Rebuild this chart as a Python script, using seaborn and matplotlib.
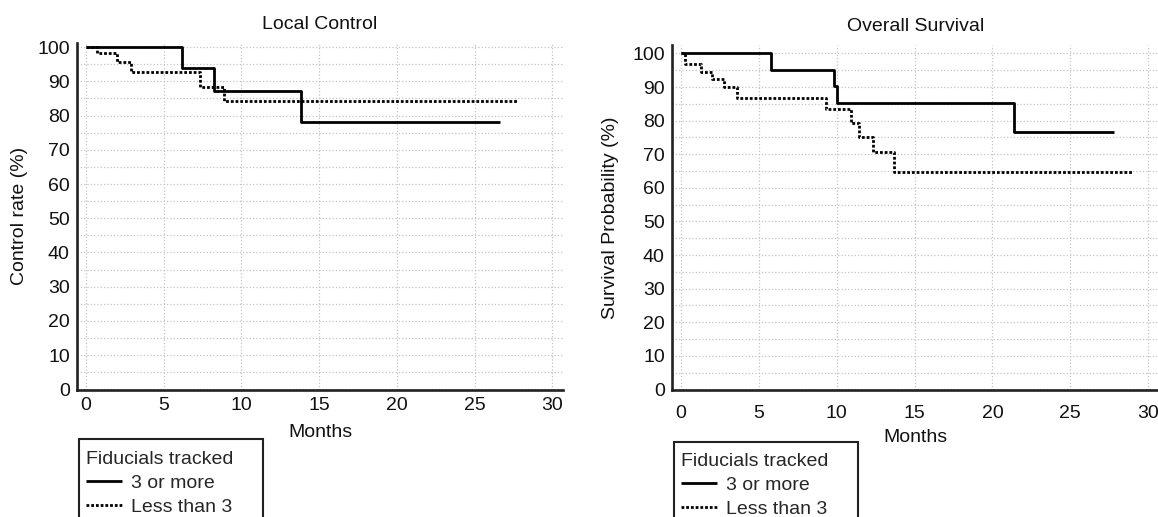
import numpy as np
import pandas as pd
import matplotlib
matplotlib.use("Agg")
import matplotlib.pyplot as plt
from matplotlib.lines import Line2D
from matplotlib.patches import Rectangle
import seaborn as sns

# ---------------- data ----------------
groups = ["3 or more", "Less than 3"]

lc_more_t = [0, 6.2, 8.2, 13.8, 26.6]
lc_more_v = [100, 93.8, 87.3, 78.2, 78.2]
lc_less_t = [0, 0.7, 2.0, 2.9, 7.3, 8.9, 27.8]
lc_less_v = [100, 98.3, 95.6, 92.7, 88.3, 84.2, 84.2]

os_more_t = [0, 5.8, 9.8, 10.0, 21.4, 27.8]
os_more_v = [100, 95.2, 90.3, 85.3, 76.7, 76.7]
os_less_t = [0, 0.26, 1.3, 2.0, 2.75, 3.6, 9.3, 10.9, 11.4, 12.3, 13.7, 29.0]
os_less_v = [100, 96.7, 94.5, 92.4, 89.9, 86.8, 83.4, 79.4, 75.2, 70.6, 64.8, 64.8]

x_ticks = [0, 5, 10, 15, 20, 25, 30]
y_ticks = [0, 10, 20, 30, 40, 50, 60, 70, 80, 90, 100]
y_minor = [5, 15, 25, 35, 45, 55, 65, 75, 85, 95]

titles = ["Local Control", "Overall Survival"]
ylabels = ["Control rate (%)", "Survival Probability (%)"]
xlabel = "Months"
legend_title = "Fiducials tracked"


def frame(t1, v1, t2, v2):
    return pd.concat([
        pd.DataFrame({"Months": t1, "Value": v1, "group": groups[0]}),
        pd.DataFrame({"Months": t2, "Value": v2, "group": groups[1]}),
    ], ignore_index=True)


dfs = [frame(lc_more_t, lc_more_v, lc_less_t, lc_less_v),
       frame(os_more_t, os_more_v, os_less_t, os_less_v)]

# ---------------- styling ----------------
sns.set_style("white")
plt.rcParams["font.family"] = ["Liberation Sans", "DejaVu Sans"]
FS = 14

W, H = 1158, 517
fig = plt.figure(figsize=(W / 100, H / 100), dpi=100)

# axes rectangles in pixel terms: (left, top, right, bottom)
rects = [(76.7, 42.7, 563.3, 390.0), (671.7, 45.0, 1159.0, 390.0)]
ylims = [(-0.2, 101.3), (-0.15, 102.5)]
xlim = (-0.6, 30.7)
xpads = [5.0, 11.0]
xlabel_y = [-0.097, -0.112]
ylabel_x = [-0.100, -0.109]

dot = (0, (1, 0.7))
dashes = {groups[0]: "", groups[1]: (1, 0.7)}

axes = []
for i, (l, t, r, b) in enumerate(rects):
    ax = fig.add_axes([l / W, (H - b) / H, (r - l) / W, (b - t) / H])
    axes.append(ax)
    sns.lineplot(data=dfs[i], x="Months", y="Value", hue="group", style="group",
                 palette={groups[0]: "black", groups[1]: "black"},
                 dashes=dashes, drawstyle="steps-post", estimator=None,
                 linewidth=2.0, legend=False, ax=ax, zorder=3)
    for ln in ax.get_lines():
        ln.set_dash_capstyle("butt")
        ln.set_solid_capstyle("butt")
    ax.set_xlim(*xlim)
    ax.set_ylim(*ylims[i])
    ax.set_xticks(x_ticks)
    ax.set_yticks(y_ticks)
    ax.set_yticks(y_minor, minor=True)
    ax.xaxis.grid(True, which="major", color="#c4c4c4", linestyle=":", linewidth=0.9)
    ax.yaxis.grid(True, which="both", color="#c4c4c4", linestyle=":", linewidth=0.9)
    ax.set_axisbelow(True)
    ax.tick_params(axis="both", which="both", length=0, labelsize=FS, colors="#111111")
    ax.tick_params(axis="x", pad=xpads[i])
    ax.tick_params(axis="y", pad=5)
    for side in ["top", "right"]:
        ax.spines[side].set_visible(False)
    for side in ["left", "bottom"]:
        ax.spines[side].set_linewidth(1.9)
        ax.spines[side].set_color("#222222")
    ax.set_title(titles[i], fontsize=FS, pad=10, color="#111111")
    ax.set_xlabel(xlabel, fontsize=FS, color="#111111")
    ax.set_ylabel(ylabels[i], fontsize=FS, color="#111111")
    ax.xaxis.set_label_coords(0.5, xlabel_y[i])
    ax.yaxis.set_label_coords(ylabel_x[i], 0.5)

    # legend
    handles = [Line2D([], [], color="black", lw=2.0, solid_capstyle="butt"),
               Line2D([], [], color="black", lw=2.0, linestyle=dot,
                      dash_capstyle="butt")]
    leg_left = l + 9
    leg = ax.legend(handles, groups, title=legend_title, loc="upper left",
                    bbox_to_anchor=(leg_left / W, (H - (t + 408)) / H),
                    bbox_transform=fig.transFigure, frameon=False,
                    fontsize=FS, title_fontsize=FS, alignment="left",
                    borderpad=0, borderaxespad=0, handlelength=1.85,
                    handletextpad=0.5, labelspacing=0.33)
    # frame of legend box (extends past the bottom edge as in the reference)
    bx0 = l + 2.6
    fig.patches.append(Rectangle((bx0 / W, -0.05), 183.4 / W,
                                 (H - (t + 396.6)) / H + 0.05,
                                 transform=fig.transFigure, fill=False,
                                 edgecolor="#222222", linewidth=1.5,
                                 clip_on=False))

fig.savefig("out.png", dpi=100)
